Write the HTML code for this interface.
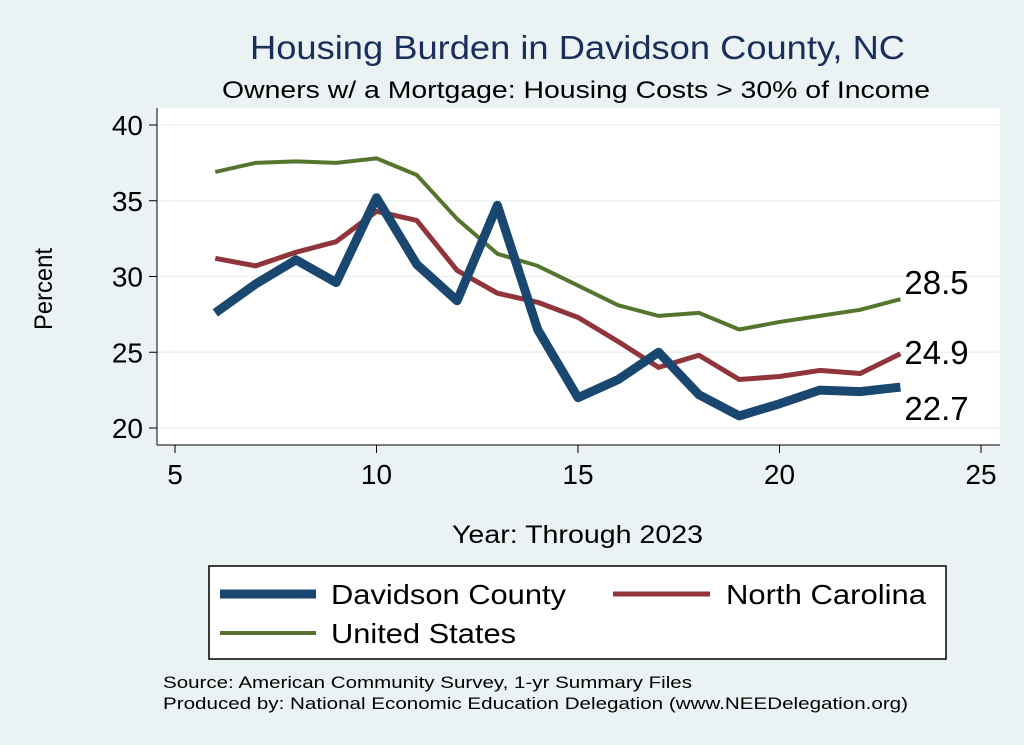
<!DOCTYPE html>
<html><head><meta charset="utf-8">
<style>
body{margin:0;background:#eaf2f3;font-family:"Liberation Sans",sans-serif;}
svg{display:block}
</style></head>
<body>
<svg id="chart" width="1024" height="745" xmlns="http://www.w3.org/2000/svg">
<rect x="0" y="0" width="1024" height="745" fill="#eaf2f3"/>
<text x="250" y="59" font-size="33" fill="#1a2e5a" textLength="655" lengthAdjust="spacingAndGlyphs">Housing Burden in Davidson County, NC</text>
<text x="222" y="98" font-size="24" fill="#000" textLength="708" lengthAdjust="spacingAndGlyphs">Owners w/ a Mortgage: Housing Costs &gt; 30% of Income</text>
<rect x="157" y="108" width="843" height="337" fill="#fff"/>
<g id="grid"></g>
<g id="axes"></g>
<g id="series"></g>
<text x="52" y="289" font-size="25" text-anchor="middle" textLength="82" lengthAdjust="spacingAndGlyphs" transform="rotate(-90 52 289)">Percent</text>
<text x="452" y="543" font-size="25" textLength="251" lengthAdjust="spacingAndGlyphs">Year: Through 2023</text>
<g>
<rect x="209" y="566" width="737" height="93" fill="#fff" stroke="#000" stroke-width="1.5"/>
<line x1="220" y1="594" x2="316" y2="594" stroke="#1a476f" stroke-width="9"/>
<text x="331" y="604" font-size="28" textLength="235" lengthAdjust="spacingAndGlyphs">Davidson County</text>
<line x1="613" y1="594" x2="710" y2="594" stroke="#90353b" stroke-width="5"/>
<text x="726" y="604" font-size="28" textLength="200" lengthAdjust="spacingAndGlyphs">North Carolina</text>
<line x1="220" y1="633" x2="316" y2="633" stroke="#55752f" stroke-width="4"/>
<text x="331" y="643" font-size="28" textLength="185" lengthAdjust="spacingAndGlyphs">United States</text>
</g>
<text x="163" y="688" font-size="17" textLength="529" lengthAdjust="spacingAndGlyphs">Source: American Community Survey, 1-yr Summary Files</text>
<text x="163" y="709" font-size="17" textLength="745" lengthAdjust="spacingAndGlyphs">Produced by: National Economic Education Delegation (www.NEEDelegation.org)</text>
</svg>
<script>
const years=[6,7,8,9,10,11,12,13,14,15,16,17,18,19,20,21,22,23];
const davidson=[27.6,29.5,31.1,29.6,35.2,30.8,28.4,34.7,26.5,22.0,23.2,25.0,22.2,20.8,21.6,22.5,22.4,22.7];
const northCarolina=[31.2,30.7,31.6,32.3,34.3,33.7,30.4,28.9,28.3,27.3,25.7,24.0,24.8,23.2,23.4,23.8,23.6,24.9];
const unitedStates=[36.9,37.5,37.6,37.5,37.8,36.7,33.8,31.5,30.7,29.4,28.1,27.4,27.6,26.5,27.0,27.4,27.8,28.5];
const xTicks=[5,10,15,20,25];
const yTicks=[20,25,30,35,40];
const NS="http://www.w3.org/2000/svg";
const xs=v=>175+(v-5)*(981-175)/20;
const ys=v=>428-(v-20)*(428-125)/20;
function mk(tag,attrs,parent){const e=document.createElementNS(NS,tag);for(const k in attrs)e.setAttribute(k,attrs[k]);parent.appendChild(e);return e;}
const grid=document.getElementById('grid'),axes=document.getElementById('axes'),ser=document.getElementById('series');
mk('line',{x1:157,y1:108,x2:157,y2:445,stroke:'#000','stroke-width':1},axes);
mk('line',{x1:157,y1:445,x2:1000,y2:445,stroke:'#000','stroke-width':1},axes);
yTicks.forEach(t=>{
 const g=mk('line',{x1:157,y1:ys(t),x2:1000,y2:ys(t),stroke:'#eaf2f3','stroke-width':1.5},grid);
 
 mk('line',{x1:149,y1:ys(t),x2:157,y2:ys(t),stroke:'#000'},axes);
 const l=mk('text',{x:143,y:ys(t)+10,'font-size':28,'text-anchor':'end'},axes);l.textContent=t;
 
});
xTicks.forEach(t=>{
 mk('line',{x1:xs(t),y1:445,x2:xs(t),y2:453,stroke:'#000'},axes);
 const l=mk('text',{x:xs(t),y:484,'font-size':28,'text-anchor':'middle'},axes);l.textContent=t;
 
});
function line(vals,color,w,name,labelDy){
 const p=mk('polyline',{points:years.map((y,i)=>xs(y)+','+ys(vals[i])).join(' '),fill:'none',stroke:color,'stroke-width':w,'stroke-linejoin':'round'},ser);
 
 const last=vals.length-1;
 const t=mk('text',{x:xs(years[last])+4,y:ys(vals[last])+labelDy,'font-size':33},ser);
 t.textContent=vals[last].toFixed(1);
 
}
line(unitedStates,'#55752f',4,'us-line',-5);
line(northCarolina,'#90353b',5,'nc-line',10);
line(davidson,'#1a476f',9,'davidson-line',33);
</script>
</body></html>
